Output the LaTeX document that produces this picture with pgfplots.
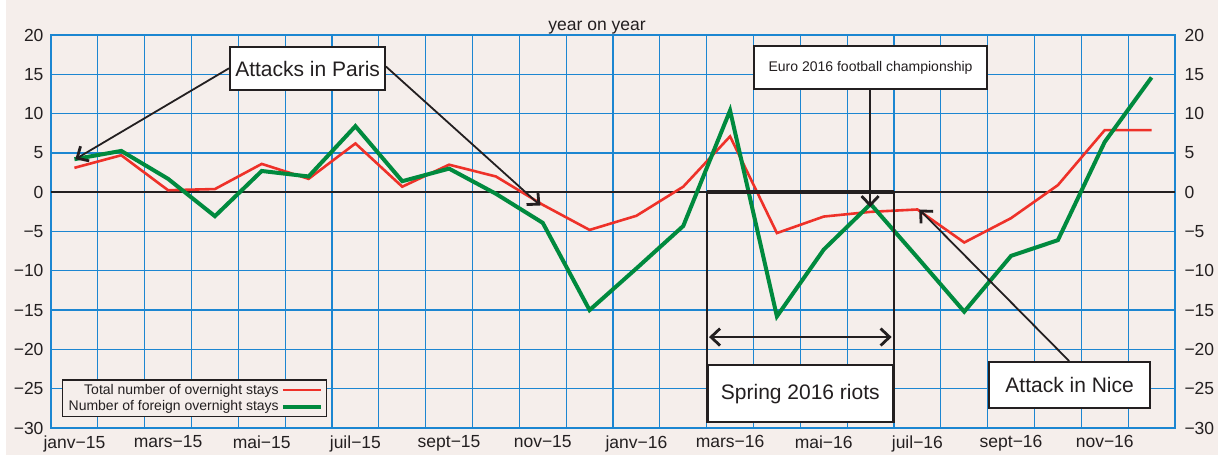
\documentclass[border=0pt]{standalone}
\usepackage{fontspec}
\setmainfont{Liberation Sans}
\usepackage{pgfplots}
\usepackage{pgfplotstable}
\pgfplotsset{compat=1.18}
\usetikzlibrary{arrows.meta}
\definecolor{bg}{HTML}{F5EEEB}
\definecolor{gridblue}{HTML}{1C86D1}
\definecolor{lred}{HTML}{EE3129}
\definecolor{lgreen}{HTML}{008A3E}
\definecolor{ink}{HTML}{231F20}

\pgfplotstableread{
x red green
0 3.1 4.2
1 4.7 5.25
2 0.25 1.7
3 0.4 -3.05
4 3.6 2.7
5 1.7 2.0
6 6.2 8.4
7 0.7 1.4
8 3.5 3.0
9 2.0 -0.2
10 -1.6 -3.9
11 -4.8 -15.0
12 -3.0 -9.7
13 0.7 -4.3
14 7.1 10.4
15 -5.2 -15.8
16 -3.1 -7.3
17 -2.5 -1.5
18 -2.2 -8.3
19 -6.4 -15.2
20 -3.3 -8.1
21 0.9 -6.1
22 7.9 6.4
23 7.9 14.6
}\datatable

\tikzset{barb/.style={-{Straight Barb[length=9pt,width=17pt,line width=2.8pt]}}}

\begin{document}
\begin{tikzpicture}
\useasboundingbox (0pt,0pt) rectangle (1225pt,455pt);
\fill[white] (0pt,0pt) rectangle (1225pt,455pt);
\fill[bg] (6pt,0pt) rectangle (1218pt,455pt);
\begin{axis}[
  at={(51pt,27pt)}, anchor=south west, scale only axis,
  width=1124pt, height=393pt,
  xmin=-0.5, xmax=23.5, ymin=-30, ymax=20,
  clip=false,
  axis line style={draw=gridblue, line width=2.6pt},
  xtick={0,2,...,22},
  xticklabels={janv−15,mars−15,mai−15,juil−15,sept−15,nov−15,janv−16,mars−16,mai−16,juil−16,sept−16,nov−16},
  minor xtick={-0.5,0.5,...,23.5},
  xminorgrids, xmajorgrids=false,
  ytick={-30,-25,...,20},
  yticklabels={−30,−25,−20,−15,−10,−5,0,5,10,15,20},
  ymajorgrids,
  major grid style={draw=gridblue, line width=1.3pt},
  minor grid style={draw=gridblue, line width=1.3pt},
  major tick length=0pt, minor tick length=0pt,
  tick label style={font=\fontsize{17.5}{20}\selectfont, text=ink},
  xticklabel style={yshift=-4pt},
  yticklabel style={xshift=-4pt},
  legend plot pos=right,
  legend cell align=right,
  legend style={at={(0.0098,0.028)}, anchor=south west, draw=ink, line width=1.3pt,
    fill=bg, font=\fontsize{14}{16}\selectfont, text=ink, row sep=1pt,
    inner xsep=4pt, inner ysep=2pt},
  legend image code/.code={\draw[#1] (0pt,0pt) -- (38pt,0pt);},
]
\draw[ink, line width=2pt] (axis cs:-0.5,0) -- (axis cs:23.5,0);
\addplot[lred, line width=2.6pt, line join=miter] table[x=x, y=red] {\datatable};
\addlegendentry{Total number of overnight stays}
\addplot[lgreen, line width=4pt, line join=miter] table[x=x, y=green] {\datatable};
\addlegendentry{Number of foreign overnight stays}

% title
\node[font=\fontsize{17.5}{20}\selectfont, text=ink] at (axis cs:11.16,21.0) {year on year};

% Attacks in Paris
\draw[ink, line width=1.8pt, barb] (axis cs:3.30,15.76) -- (axis cs:0.02,4.2);
\draw[ink, line width=1.8pt, barb] (axis cs:6.65,16.0) -- (axis cs:9.95,-1.7);
\node[draw=ink, line width=2pt, fill=white, minimum width=155pt, minimum height=43pt,
  font=\fontsize{21}{24}\selectfont, text=ink, inner sep=0pt] at (axis cs:4.98,15.7) {Attacks in Paris};

% Spring 2016 riots
\draw[ink, line width=2pt] (axis cs:13.5,0) -- (axis cs:13.5,-29.37);
\draw[ink, line width=2pt] (axis cs:17.5,0) -- (axis cs:17.5,-29.37);
\draw[ink, line width=4.5pt] (axis cs:13.5,0) -- (axis cs:17.5,0);
\draw[ink, line width=1.8pt, {Straight Barb[length=9pt,width=17pt,line width=2.8pt]}-{Straight Barb[length=9pt,width=17pt,line width=2.8pt]}]
  (axis cs:13.55,-18.43) -- (axis cs:17.45,-18.43);
\node[draw=ink, line width=2pt, fill=white, minimum width=185pt, minimum height=57pt,
  font=\fontsize{21}{24}\selectfont, text=ink, inner sep=0pt] at (axis cs:15.5,-25.62) {Spring 2016 riots};

% Euro 2016
\draw[ink, line width=2pt, barb] (axis cs:16.99,12.97) -- (axis cs:16.99,-1.9);
\node[draw=ink, line width=2pt, fill=white, minimum width=233pt, minimum height=43pt,
  font=\fontsize{14}{17}\selectfont, text=ink, inner sep=0pt] at (axis cs:17.0,15.83) {Euro 2016 football championship};

% Attack in Nice
\draw[ink, line width=1.8pt, barb] (axis cs:21.24,-21.48) -- (axis cs:18.04,-2.2);
\node[draw=ink, line width=2pt, fill=white, minimum width=161pt, minimum height=46pt,
  font=\fontsize{21}{24}\selectfont, text=ink, inner sep=0pt] at (axis cs:21.25,-24.53) {Attack in Nice};
\end{axis}

\begin{axis}[
  at={(51pt,27pt)}, anchor=south west, scale only axis,
  width=1124pt, height=393pt,
  xmin=-0.5, xmax=23.5, ymin=-30, ymax=20,
  hide x axis,
  axis y line*=right,
  axis line style={draw=none},
  ytick={-30,-25,...,20},
  yticklabels={−30,−25,−20,−15,−10,−5,0,5,10,15,20},
  major tick length=0pt,
  tick label style={font=\fontsize{17.5}{20}\selectfont, text=ink},
  yticklabel style={xshift=6pt},
]
\addplot[draw=none] coordinates {(0,0)};
\end{axis}
\end{tikzpicture}
\end{document}
